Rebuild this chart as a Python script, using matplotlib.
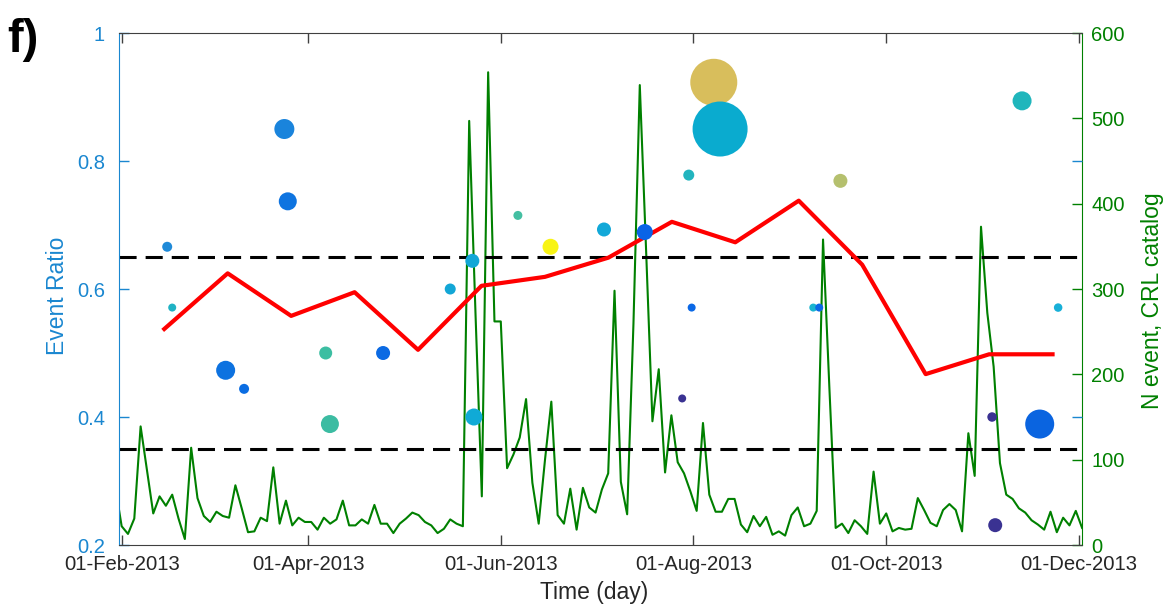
import numpy as np
import pandas as pd
import matplotlib
matplotlib.use('Agg')
import matplotlib.pyplot as plt
import matplotlib.dates as mdates

plt.rcParams['font.family'] = ['Liberation Sans', 'DejaVu Sans']

# N event per 2-day bin (CRL catalog), first bin 30-Jan-2013
n_event_start = '2013-01-30'
n_event = [
    68, 22, 13, 31, 139, 88, 37, 57, 46, 59, 31, 7, 114, 55, 34,          # Jan30 - Feb27
    27, 39, 34, 32, 70, 43, 15, 16, 32, 28, 91, 25, 52, 23, 32, 27,       # Mar
    27, 18, 32, 25, 30, 52, 23, 23, 30, 25, 47, 25, 25, 14, 25,           # Apr
    31, 38, 35, 27, 23, 14, 19, 30, 25, 22, 497, 271, 57, 554, 262,       # May
    262, 90, 106, 126, 171, 73, 25, 100, 168, 35, 25, 66, 18, 67, 44,     # Jun
    38, 65, 84, 298, 74, 36, 260, 539, 345, 145, 206, 85, 152, 97, 84, 63,  # Jul
    40, 143, 59, 39, 39, 54, 54, 24, 15, 34, 22, 33, 12, 16, 11,          # Aug
    35, 44, 22, 25, 40, 358, 185, 20, 25, 14, 29, 22, 13, 86, 25,         # Sep
    37, 16, 20, 18, 19, 55, 41, 26, 22, 41, 48, 41, 16, 131, 81, 373,     # Oct
    272, 209, 96, 59, 54, 43, 38, 29, 24, 18, 39, 15, 32, 23, 40,         # Nov
    20,                                                                   # Dec
]

# mean event ratio, ~20-day windows
ratio_start = '2013-02-14 11:30'
ratio_step = '482h'
ratio_mean = [0.5375, 0.6245, 0.558, 0.595, 0.505, 0.605, 0.619, 0.649,
              0.705, 0.673, 0.738, 0.638, 0.467, 0.498, 0.498]

# single sequences: date, event ratio, bubble diameter (px), colour
dot_dates = ['2013-02-15 10:00', '2013-02-17 00:00', '2013-03-05 22:00', '2013-03-11 18:00',
             '2013-03-24 12:00', '2013-03-25 14:00', '2013-04-06 14:00', '2013-04-07 22:00',
             '2013-04-24 18:00', '2013-05-16 00:00', '2013-05-23 00:00', '2013-05-23 12:00',
             '2013-06-06 10:00', '2013-06-16 18:00', '2013-07-03 16:00', '2013-07-16 14:00',
             '2013-07-28 10:00', '2013-07-30 12:00', '2013-07-31 10:00', '2013-08-07 10:00',
             '2013-08-09 10:00', '2013-09-07 22:00', '2013-09-09 19:00', '2013-09-16 12:00',
             '2013-11-03 12:00', '2013-11-04 12:00', '2013-11-13 00:00', '2013-11-18 14:00',
             '2013-11-24 10:00']
dot_ratio = [0.666, 0.571, 0.473, 0.444, 0.850, 0.737, 0.500, 0.389,
             0.500, 0.600, 0.644, 0.400, 0.715, 0.666, 0.693, 0.689,
             0.429, 0.778, 0.571, 0.923, 0.850, 0.571, 0.571, 0.769,
             0.400, 0.231, 0.894, 0.389, 0.571]
dot_size = [10, 8, 19, 10, 20, 18, 13, 18, 14, 11, 14, 17, 9, 16, 14, 16,
            8, 11, 8, 47, 55, 8, 8, 14, 9.5, 14, 19, 29, 8.5]
dot_colors = ['#1f8ad8', '#1fb2c4', '#0d72e0', '#0b6de2', '#1a84dc', '#0e74e0',
              '#3cbea2', '#3cbca2', '#0b6ae3', '#12a6d6', '#12a6d6', '#10aad6',
              '#44bfa2', '#f8f414', '#12a8d8', '#0a64e6', '#3a3292', '#22b4be',
              '#0a68e6', '#d8be5c', '#0aabcf', '#1ab4d0', '#0a68e6', '#b5c06e',
              '#3a3292', '#3a3292', '#20b6bc', '#0a64e0', '#18b0d8']

thr_high = 0.65
thr_low = 0.35

BLUE = '#1a87d0'
GREEN = '#008000'
DARK = '#262626'

n_dates = pd.date_range(n_event_start, periods=len(n_event), freq='2D')
r_dates = pd.date_range(ratio_start, periods=len(ratio_mean), freq=ratio_step)
d_dates = pd.to_datetime(dot_dates, format='%Y-%m-%d %H:%M')

fig = plt.figure(figsize=(11.72, 6.08), dpi=100)
ax = fig.add_axes([0.1015, 0.1036, 0.8214, 0.8421])
ax2 = ax.twinx()

# right axis: number of events
ax2.plot(n_dates, n_event, color=GREEN, linewidth=1.5)
ax2.set_ylim(0, 600)
ax2.set_yticks(range(0, 700, 100))
ax2.tick_params(axis='y', direction='in', colors=GREEN, length=7, width=1,
                labelsize=14.5, pad=7)
ax2.set_ylabel('N event, CRL catalog', color=GREEN, fontsize=16.5)
ax2.yaxis.set_label_coords(1.062, 0.477)
for s in ['left', 'top', 'bottom']:
    ax2.spines[s].set_visible(False)
ax2.spines['right'].set_color(GREEN)

# left axis on top
ax.set_zorder(ax2.get_zorder() + 1)
ax.patch.set_visible(False)

ax.axhline(thr_high, color='k', linestyle=(0, (5.6, 2.95)), linewidth=2.2, zorder=2)
ax.axhline(thr_low, color='k', linestyle=(0, (5.6, 2.95)), linewidth=2.2, zorder=2)
ax.plot(r_dates, ratio_mean, color='red', linewidth=3, zorder=3)
ax.scatter(d_dates, dot_ratio, s=(np.array(dot_size) * 0.72) ** 2, c=dot_colors,
           linewidths=0, zorder=4)

ax.set_xlim(pd.Timestamp('2013-01-31 03:30'), pd.Timestamp('2013-12-01 20:30'))
ax.set_ylim(0.2, 1)
ax.set_yticks([0.2, 0.4, 0.6, 0.8, 1.0])
ax.set_yticklabels(['0.2', '0.4', '0.6', '0.8', '1'])
ax.tick_params(axis='y', direction='in', colors=BLUE, right=True, labelright=False,
               length=7, width=1, labelsize=14.5, pad=10)
for t, v in zip(ax.yaxis.get_major_ticks(), ax.get_yticks()):
    if round(v, 1) in (0.2, 0.6, 1.0):
        t.tick2line.set_visible(False)

ax.xaxis.set_major_locator(mdates.MonthLocator(bymonth=[2, 4, 6, 8, 10, 12]))
ax.xaxis.set_major_formatter(mdates.DateFormatter('%d-%b-%Y'))
ax.tick_params(axis='x', direction='in', top=True, length=7, width=1,
               color='#404040', labelcolor=DARK, labelsize=14.6, pad=7.5)

ax.set_ylabel('Event Ratio', color=BLUE, fontsize=16.5)
ax.yaxis.set_label_coords(-0.052, 0.486)
ax.set_xlabel('Time (day)', color=DARK, fontsize=16.5)
ax.xaxis.set_label_coords(0.4932, -0.071)

ax.spines['left'].set_color(BLUE)
ax.spines['right'].set_visible(False)
for s in ['top', 'bottom']:
    ax.spines[s].set_color('#404040')

fig.text(0.006, 0.915, 'f)', fontsize=34, fontweight='bold', va='baseline')

fig.savefig('out.png', dpi=100)
